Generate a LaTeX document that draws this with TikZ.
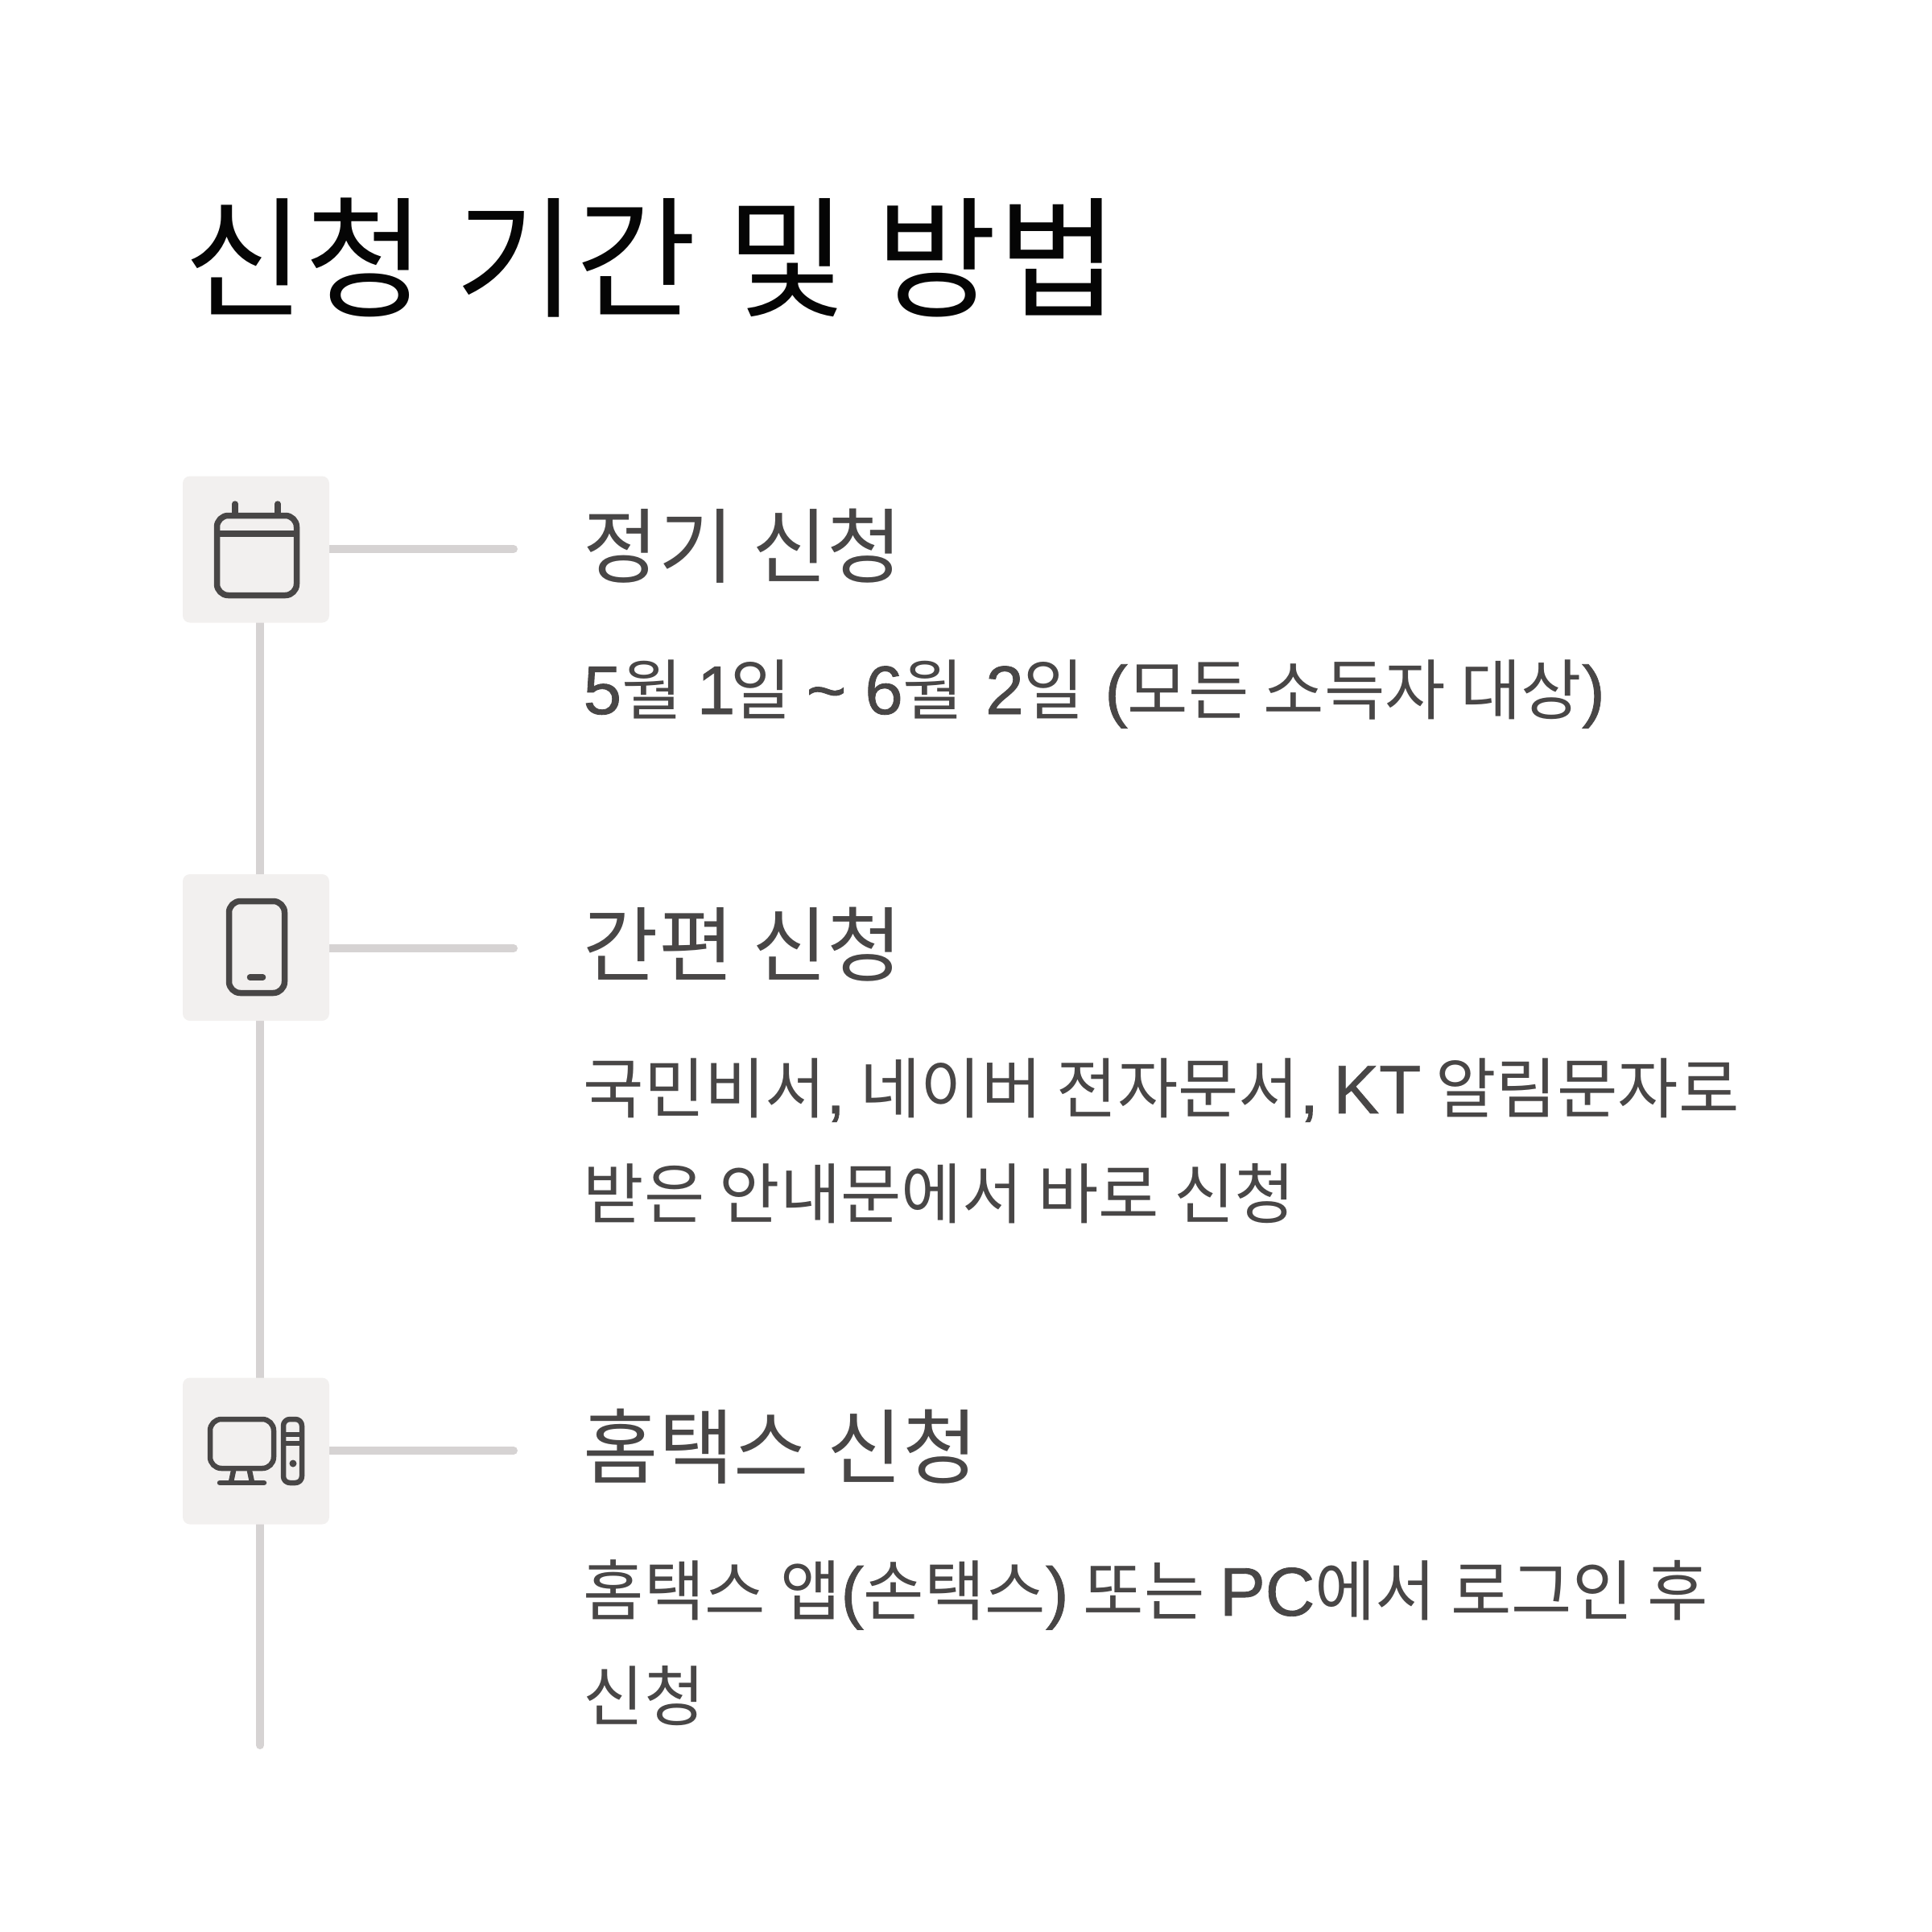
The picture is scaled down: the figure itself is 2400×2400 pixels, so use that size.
\documentclass[tikz,border=0pt]{standalone}
\usepackage{fontspec}
\usetikzlibrary{backgrounds,calc,positioning}
\setmainfont{Noto Sans CJK KR}
\newfontfamily\latinfont[FakeBold=1.0,Scale=1.04]{Liberation Sans}
\newcommand{\lat}[1]{{\latinfont #1}}
\definecolor{TitleInk}{RGB}{5,5,5}
\definecolor{BodyInk}{RGB}{72,70,70}
\definecolor{IconFill}{RGB}{242,240,239}
\definecolor{RailGray}{RGB}{214,211,211}
\tikzset{
    iconbox/.style={fill=IconFill, rounded corners=2.5pt, minimum size=182*0.01cm, inner sep=0pt, outer sep=0pt},
    rail/.style={RailGray, line width=10*0.01cm, line cap=round},
    glyph/.style={BodyInk, line width=7.5*0.01cm, line cap=round, line join=round},
    thinglyph/.style={glyph, line width=6.5*0.01cm},
    headtext/.style={anchor=base west, inner sep=0pt, BodyInk, font=\fontsize{28.9}{34}\selectfont},
    bodytext/.style={anchor=base west, inner sep=0pt, BodyInk, align=left, font=\fontsize{23.3}{37}\selectfont},
}
\begin{document}
\begin{tikzpicture}[x=0.01cm, y=-0.01cm]
    \useasboundingbox (0,0) rectangle (2400,2400);

    % Title
    \node[anchor=base west, inner sep=0pt, TitleInk, font=\fontsize{46.4}{56}\selectfont] (title) at (228,381) {신청 기간 및 방법};

    % Icon boxes
    \node[iconbox] (boxA) at (318,682.5) {};
    \node[iconbox] (boxB) at (318,1177) {};
    \node[iconbox] (boxC) at (318,1802.5) {};
    \coordinate (railEnd) at (323,2168);
    \coordinate (tickA) at (638,682);
    \coordinate (tickB) at (638,1178);
    \coordinate (tickC) at (638,1802);

    % Rails
    \begin{scope}[on background layer]
        \draw[rail] ($(boxA.south)+(5,0)$) -- ($(boxB.north)+(5,0)$);
        \draw[rail] ($(boxB.south)+(5,0)$) -- ($(boxC.north)+(5,0)$);
        \draw[rail] ($(boxC.south)+(5,0)$) -- (railEnd);
        \draw[rail] (boxA.center |- tickA) -- (tickA);
        \draw[rail] (boxB.center |- tickB) -- (tickB);
        \draw[rail] (boxC.center |- tickC) -- (tickC);
    \end{scope}

    % Calendar
    \draw[glyph, rounded corners=4pt] (269.5,640.5) rectangle (368.5,739.5);
    \draw[glyph, line cap=butt] (269.5,663) -- (368.5,663);
    \draw[glyph] (292,626) -- (292,640);
    \draw[glyph] (345,626) -- (345,640);

    % Phone
    \draw[glyph, rounded corners=4pt] (284.5,1119.5) rectangle (353.5,1233.5);
    \draw[glyph] (310.5,1214) -- (326.5,1214);

    % Computer
    \draw[thinglyph, rounded corners=4pt] (261,1763) rectangle (340,1824);
    \draw[thinglyph] (290,1827) -- (287,1841);
    \draw[thinglyph] (310,1827) -- (313,1841);
    \draw[thinglyph] (273,1842) -- (328,1842);
    \draw[thinglyph, rounded corners=2.3pt] (352,1763) rectangle (375,1842);
    \draw[thinglyph, line cap=butt] (352,1782) -- (375,1782);
    \draw[thinglyph, line cap=butt] (352,1793) -- (375,1793);
    \fill[BodyInk] (364,1818) circle (4.5);

    % Step texts
    \node[headtext] (headA) at (724,716) {정기 신청};
    \node[bodytext] (bodyA) at (724,887) {\lat{5}월 \lat{1}\kern-1.5pt 일 \lat{\textasciitilde}\kern1.3pt\ \lat{6}월\kern2.5pt\ \lat{2}일\kern2pt\ \lat{(}모든 소득자 대상\lat{)}};
    \node[headtext] (headB) at (724,1211) {간편 신청};
    \node[bodytext] (bodyB) at (724,1513) {국민비서\lat{,} 네이버 전자문서\lat{,} \lat{KT} 알림문자로\\받은 안내문에서 바로 신청};
    \node[headtext] (headC) at (724,1835) {홈택스 신청};
    \node[bodytext] (bodyC) at (724,2137) {홈택스 앱\lat{(}손택스\lat{)} 또는 \lat{PC}에서 로그인 후\\신청};
\end{tikzpicture}
\end{document}
